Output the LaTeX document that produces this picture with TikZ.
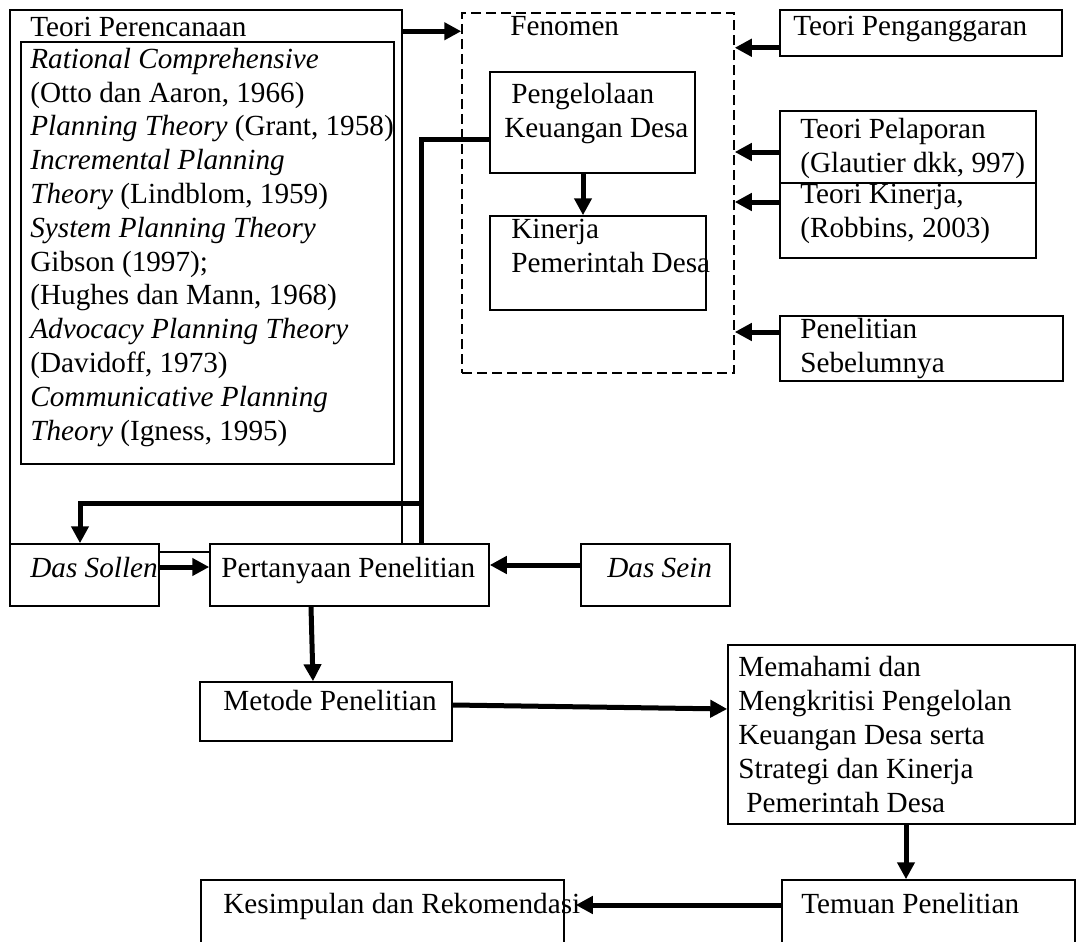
\documentclass[tikz,border=0pt]{standalone}
\usepackage{fontspec}
\setmainfont{Liberation Serif}
\usetikzlibrary{positioning,arrows.meta,fit}

\begin{document}
\begin{tikzpicture}[
  x=0.5pt, y=-0.5pt,
  >={Triangle[length=8.5pt,width=8.5pt]},
  every node/.style={font=\fontsize{14.6}{16.9}\selectfont},
  box/.style={draw, line width=0.75pt, fill=white, inner sep=0pt},
  txt/.style={anchor=base west, inner sep=0pt, align=left},
  lnk/.style={line width=2.5pt},
  arr/.style={lnk, ->}]
  \useasboundingbox (0,0) rectangle (1078,942);
  % theory block (left); multi-line texts sit on their last baseline
  \node[box, fit={(10,10) (402,552)}] (perenc) {};
  \node[box, fit={(21,42) (394,464)}] (daftar) {};
  \node[txt] (perenc-t) at (30,36) {Teori Perencanaan};
  \node[txt] (daftar-t) at (30,440) {\textit{Rational Comprehensive}\\
    (Otto dan Aaron, 1966)\\
    \textit{Planning Theory} (Grant, 1958)\\
    \textit{Incremental Planning}\\
    \textit{Theory} (Lindblom, 1959)\\
    \textit{System Planning Theory}\\
    Gibson (1997);\\
    (Hughes dan Mann, 1968)\\
    \textit{Advocacy Planning Theory}\\
    (Davidoff, 1973)\\
    \textit{Communicative Planning}\\
    \textit{Theory} (Igness, 1995)};
  % phenomenon (dashed)
  \node[box, fill=none, dash pattern=on 5pt off 2.5pt, fit={(462,13) (734,373)}] (fenomen) {};
  \node[txt] (fenomen-t) at (510,35) {Fenomen};
  \node[box, fit={(490,72) (695,173)}] (pkd) {};
  \node[txt] (pkd-t) at (504,137) {\hspace{3.5pt}Pengelolaan\\Keuangan Desa};
  \node[box, fit={(490,216) (706,310)}] (kpd) {};
  \node[txt] (kpd-t) at (511,272) {Kinerja\\Pemerintah Desa};
  % theories (right)
  \node[box, fit={(780,10) (1062,56)}] (anggaran) {};
  \node[txt] (anggaran-t) at (793,35) {Teori Penganggaran};
  \node[box, fit={(780,111) (1036,183)}] (lapor) {};
  \node[txt] (lapor-t) at (800,172) {Teori Pelaporan\\(Glautier dkk, 997)};
  \node[box, fit={(780,183) (1036,258)}] (kinerja) {};
  \node[txt] (kinerja-t) at (800,237) {Teori Kinerja,\\(Robbins, 2003)};
  \node[box, fit={(780,316) (1063,381)}] (sebelum) {};
  \node[txt] (sebelum-t) at (800,372) {Penelitian\\Sebelumnya};
  % research question row
  \node[box, fit={(10,544) (159,606)}] (sollen) {};
  \node[txt] (sollen-t) at (30,577) {\textit{Das Sollen}};
  \node[box, fit={(210,544) (489,606)}] (tanya) {};
  \node[txt] (tanya-t) at (221,577) {Pertanyaan Penelitian};
  \node[box, fit={(581,544) (730,606)}] (sein) {};
  \node[txt] (sein-t) at (607,577) {\textit{Das Sein}};
  % method and results
  \node[box, fit={(200,682) (452,741)}] (metode) {};
  \node[txt] (metode-t) at (223,710) {Metode Penelitian};
  \node[box, fit={(728,645) (1075,824)}] (paham) {};
  \node[txt] (paham-t) at (738,812) {Memahami dan\\Mengkritisi Pengelolan\\Keuangan Desa serta\\Strategi dan Kinerja\\\hspace{4pt}Pemerintah Desa};
  \node[box, fit={(782,880) (1075,948)}] (temuan) {};
  \node[txt] (temuan-t) at (801,913) {Temuan Penelitian};
  \node[box, fit={(201,880) (564,948)}] (simpul) {};
  \node[txt] (simpul-t) at (223,913) {Kesimpulan dan Rekomendasi};
  % arrows into fenomen
  \draw[arr] ([yshift=-11pt]perenc.north east) -- ([yshift=-11pt]perenc.north east -| fenomen.west);
  \draw[arr] ([yshift=4.5pt]anggaran.south west) -- ([yshift=4.5pt]anggaran.south west -| fenomen.east);
  \draw[arr] ([yshift=-2.5pt]lapor.west) -- ([yshift=-2.5pt]lapor.west -| fenomen.east);
  \draw[arr] ([yshift=9.25pt]kinerja.west) -- ([yshift=9.25pt]kinerja.west -| fenomen.east);
  \draw[arr] ([yshift=8.25pt]sebelum.west) -- ([yshift=8.25pt]sebelum.west -| fenomen.east);
  \draw[arr] ([xshift=-4.75pt]pkd.south) -- ([xshift=-4.75pt]pkd.south |- kpd.north);
  % feedback line
  \draw[lnk] ([yshift=-8.25pt]pkd.west) -| ([xshift=35.75pt]tanya.north);
  \coordinate (cabang) at ([xshift=35.75pt,yshift=20pt]tanya.north);
  \draw[arr] (cabang) -| ([xshift=-2.25pt]sollen.north);
  % question row
  \draw[arr] ([yshift=4pt]sollen.east) -- ([yshift=4pt]tanya.west);
  \draw[arr] ([yshift=5pt]sein.west) -- ([yshift=5pt]tanya.east);
  % flow down
  \draw[arr] ([xshift=-19.25pt]tanya.south) -- ([xshift=-6.5pt]metode.north);
  \draw[arr] ([yshift=3.25pt]metode.east) -- ([yshift=12.75pt]paham.west);
  \draw[arr] ([xshift=2.25pt]paham.south) -- ([xshift=-11.25pt]temuan.north);
  \draw[arr] ([yshift=4.5pt]temuan.west) -- ([xshift=5.5pt,yshift=4.5pt]simpul.east);
\end{tikzpicture}
\end{document}
